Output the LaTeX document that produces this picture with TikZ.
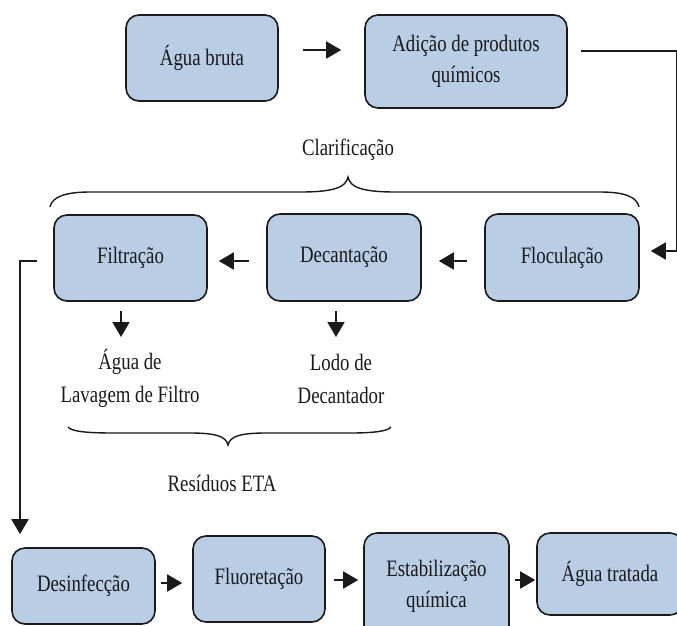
\documentclass[tikz,border=0pt]{standalone}
\usepackage{fontspec}
\setmainfont{Liberation Serif}[FakeStretch=0.8]
\usetikzlibrary{arrows.meta,calc}
\definecolor{boxfill}{HTML}{B9CDE5}
\definecolor{ink}{HTML}{1A1A1A}
\begin{document}
\begin{tikzpicture}[x=1pt,y=-1pt,
  box/.style={draw=ink, line width=1.6pt, fill=boxfill, rounded corners=13pt, inner sep=0pt,
    align=center, font=\fontsize{23.5}{31}\selectfont, text=ink},
  arr/.style={draw=ink, line width=1.8pt, -{Triangle[length=15pt,width=17pt]}},
  lbl/.style={align=center, inner sep=0pt, font=\fontsize{23.5}{33}\selectfont, text=ink},
  brc/.style={draw=ink, line width=1.4pt}]
\useasboundingbox (0,0) rectangle (677,625);
\clip (0,0) rectangle (677,625);

% boxes
\node[box, minimum width=152pt, minimum height=86pt] (agua) at (202,58) {Água bruta};
\node[box, minimum width=202pt, minimum height=93pt] (adicao) at (466,61.5) {Adição de produtos\\químicos};
\node[box, minimum width=154pt, minimum height=87pt] (floc) at (562,257.5) {Floculação};
\node[box, minimum width=154pt, minimum height=87pt] (decant) at (344,257.5) {Decantação};
\node[box, minimum width=153pt, minimum height=86pt] (filt) at (130.5,258) {Filtração};
\node[box, minimum width=143pt, minimum height=76pt] (desinf) at (83.5,586) {Desinfecção};
\node[box, minimum width=132pt, minimum height=86pt] (fluor) at (259,579) {Fluoretação};
\node[box, minimum width=145pt, minimum height=107pt] (estab) at (436.5,586.5) {Estabilização\\química};
\node[box, minimum width=146pt, minimum height=82pt] (tratada) at (610,574) {Água tratada};

% labels
\node[lbl] (lav) at (130,378.5) {Água de\\Lavagem de Filtro};
\node[lbl] (lodo) at (341,378.5) {Lodo de\\Decantador};
\node[lbl] (clar) at (348,150) {Clarificação};
\node[lbl] (resid) at (222,483) {Resíduos ETA};

% connectors
\draw[arr] ([shift={(24,-8)}]agua.east) -- ([shift={(-23,-11.5)}]adicao.west);
\draw[arr] ([shift={(13,-10.5)}]adicao.east) -- ++(96,0) |- ([shift={(11,-6.5)}]floc.east);
\draw[arr] ([shift={(-17,3.5)}]floc.west) -- ([shift={(17,3.5)}]decant.east);
\draw[arr] ([shift={(-17,3.5)}]decant.west) -- ([shift={(11,3)}]filt.east);
\draw[arr] ([shift={(-16,3)}]filt.west) -| ([shift={(-63.5,-13)}]desinf.north);
\draw[arr] ([shift={(-9.5,9)}]filt.south) -- ([shift={(-9,-41.5)}]lav.center);
\draw[arr] ([shift={(-8,9)}]decant.south) -- ([shift={(-5,-41.5)}]lodo.center);
\draw[arr] ([shift={(5,-3)}]desinf.east) -- ([shift={(-10,4)}]fluor.west);
\draw[arr] ([shift={(8,1)}]fluor.east) -- ([shift={(-5,-6.5)}]estab.west);
\draw[arr] ([shift={(5,-6.5)}]estab.east) -- ([shift={(-1,6)}]tratada.west);

% braces
\draw[brc] (50,207) .. controls (52,197) and (65,192) .. (90,192) -- (300,192)
  .. controls (335,192) and (346,187) .. (348,177)
  .. controls (350,187) and (361,192) .. (396,192) -- (600,192)
  .. controls (625,192) and (637,197) .. (639,207);
\draw[brc] (68,427) .. controls (72,432) and (90,433) .. (115,433) -- (190,433)
  .. controls (215,433) and (226,436) .. (228,445)
  .. controls (230,436) and (241,433) .. (266,433) -- (350,433)
  .. controls (375,433) and (388,431) .. (391,427);
\end{tikzpicture}
\end{document}
